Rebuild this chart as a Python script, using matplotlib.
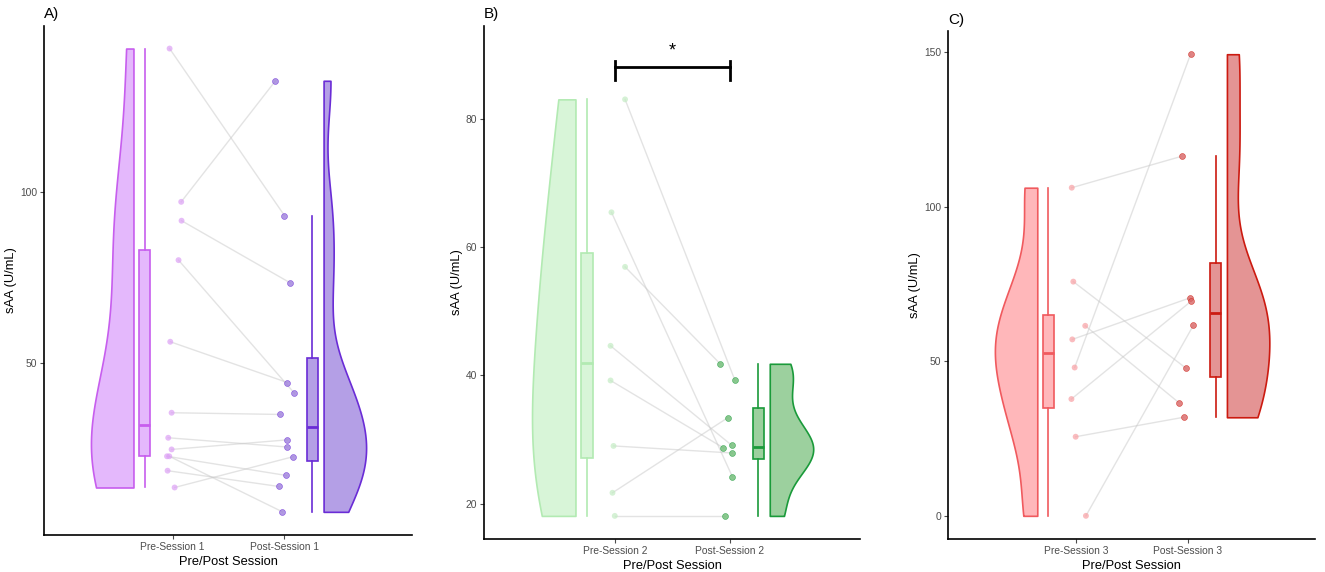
import numpy as np
import matplotlib
matplotlib.use("Agg")
import matplotlib.pyplot as plt

plt.rcParams['font.family'] = ['Liberation Sans', 'DejaVu Sans']

# values, pre[i] is paired with post[i]
pre_1 = [141.7, 97.0, 91.5, 80.0, 56.2, 35.5, 28.2, 24.8, 22.8, 22.8, 18.6, 13.7]
post_1 = [93.0, 132.3, 73.4, 41.2, 44.3, 35.0, 25.5, 27.6, 17.2, 6.6, 14.0, 22.7]
jit_pre_1 = [-0.027, 0.077, 0.080, 0.053, -0.021, -0.009, -0.039, -0.009, -0.050, -0.030, -0.045, 0.018]
jit_post_1 = [0.0, -0.080, 0.050, 0.089, 0.027, -0.036, 0.027, 0.027, 0.018, -0.018, -0.050, 0.080]

pre_2 = [83.0, 65.4, 56.9, 44.6, 39.2, 29.0, 21.7, 18.1]
post_2 = [39.2, 24.2, 41.8, 29.1, 28.7, 27.9, 33.4, 18.1]
jit_pre_2 = [0.084, -0.035, 0.084, -0.043, -0.043, -0.017, -0.026, -0.006]
jit_post_2 = [0.046, 0.023, -0.084, 0.017, -0.055, 0.020, -0.017, -0.040]

pre_3 = [106.2, 75.8, 61.5, 57.1, 48.0, 37.8, 25.6, 0.0]
post_3 = [116.4, 47.8, 36.6, 70.5, 149.4, 69.4, 31.9, 61.7]
jit_pre_3 = [-0.041, -0.027, 0.080, -0.036, -0.015, -0.044, -0.006, 0.086]
jit_post_3 = [-0.053, -0.018, -0.080, 0.015, 0.024, 0.027, -0.038, 0.050]

yticks_1 = [50, 100]
yticks_2 = [20, 40, 60, 80]
yticks_3 = [0, 50, 100, 150]

# fill, edge, point colours for pre and post
cols_1 = dict(pre_fill='#E4B8FC', pre_edge='#C75EEE', pre_pt='#DCA0F5',
              post_fill='#B49FE6', post_edge='#6A2CD6', post_pt='#9E80DC')
cols_2 = dict(pre_fill='#D8F5D8', pre_edge='#B2EAB2', pre_pt='#C4ECC4',
              post_fill='#9CD09E', post_edge='#1A9A3A', post_pt='#6DBB73')
cols_3 = dict(pre_fill='#FFB7BA', pre_edge='#F05A5E', pre_pt='#F8A0A4',
              post_fill='#E49494', post_edge='#CC1A10', post_pt='#D96666')


def half_violin(ax, vals, x0, side, fill, edge, maxw=0.38):
    v = np.asarray(vals, float)
    q75, q25 = np.percentile(v, [75, 25])
    bw = 0.9 * min(v.std(ddof=1), (q75 - q25) / 1.34) * len(v) ** -0.2
    ys = np.linspace(v.min(), v.max(), 300)
    d = np.exp(-0.5 * ((ys[:, None] - v[None, :]) / bw) ** 2).sum(axis=1)
    d = d / d.max() * maxw
    if side == 'left':
        ax.fill_betweenx(ys, x0 - d, x0, facecolor=fill, edgecolor=edge, lw=1.2, zorder=2)
    else:
        ax.fill_betweenx(ys, x0, x0 + d, facecolor=fill, edgecolor=edge, lw=1.2, zorder=2)


def box(ax, vals, pos, fill, edge):
    ax.boxplot(vals, positions=[pos], widths=0.1, patch_artist=True, showfliers=False,
               showcaps=False, manage_ticks=False,
               boxprops=dict(facecolor=fill, edgecolor=edge, lw=1.2),
               whiskerprops=dict(color=edge, lw=1.2),
               medianprops=dict(color=edge, lw=2), zorder=3)


def draw_panel(ax, pre, post, jpre, jpost, c, yticks, ylim, n, tag):
    xp = 1 + np.array(jpre)
    xq = 2 + np.array(jpost)
    for a, b, ya, yb in zip(xp, xq, pre, post):
        ax.plot([a, b], [ya, yb], color='#C8C8C8', alpha=0.5, lw=1, zorder=1)
    ax.scatter(xp, pre, s=18, color=c['pre_pt'], alpha=0.7, edgecolors='none', zorder=4)
    ax.scatter(xq, post, s=18, color=c['post_pt'], alpha=0.8, edgecolors=c['post_edge'],
               linewidths=0.4, zorder=4)
    half_violin(ax, pre, 1 - 0.35, 'left', c['pre_fill'], c['pre_edge'])
    half_violin(ax, post, 2 + 0.35, 'right', c['post_fill'], c['post_edge'])
    box(ax, pre, 1 - 0.25, c['pre_fill'], c['pre_edge'])
    box(ax, post, 2 + 0.25, c['post_fill'], c['post_edge'])

    ax.set_xlim(-0.15, 3.14)
    ax.set_ylim(*ylim)
    ax.set_xticks([1, 2])
    ax.set_xticklabels([f'Pre-Session {n}', f'Post-Session {n}'])
    ax.set_yticks(yticks)
    ax.tick_params(colors='#4D4D4D', labelsize=7.4, length=3, width=0.8, pad=2)
    for s in ['top', 'right']:
        ax.spines[s].set_visible(False)
    for s in ['left', 'bottom']:
        ax.spines[s].set_linewidth(1.2)
    ax.set_xlabel('Pre/Post Session', fontsize=9.3, labelpad=3)
    ax.set_ylabel('sAA (U/mL)', fontsize=9.3, labelpad=2)
    ax.annotate(tag, xy=(0, 1), xycoords='axes fraction', xytext=(0, 3),
                textcoords='offset points', fontsize=11, va='bottom', ha='left')


fig = plt.figure(figsize=(13.25, 5.72), dpi=100)
ax1 = fig.add_axes([0.0332, 0.0647, 0.2777, 0.8906])
ax2 = fig.add_axes([0.3653, 0.0577, 0.2838, 0.8976])
ax3 = fig.add_axes([0.7155, 0.0577, 0.2770, 0.8880])

draw_panel(ax1, pre_1, post_1, jit_pre_1, jit_post_1, cols_1, yticks_1, (-0.15, 148.4), 1, 'A)')
draw_panel(ax2, pre_2, post_2, jit_pre_2, jit_post_2, cols_2, yticks_2, (14.5, 94.5), 2, 'B)')
draw_panel(ax3, pre_3, post_3, jit_pre_3, jit_post_3, cols_3, yticks_3, (-7.5, 156.9), 3, 'C)')

# significance bracket in panel B
ax2.plot([1, 2], [88.0, 88.0], color='black', lw=2)
ax2.plot([1, 1], [86.0, 89.0], color='black', lw=2)
ax2.plot([2, 2], [86.0, 89.0], color='black', lw=2)
ax2.text(1.5, 90.5, '*', ha='center', va='center', fontsize=13)

fig.savefig('out.png', dpi=100)
